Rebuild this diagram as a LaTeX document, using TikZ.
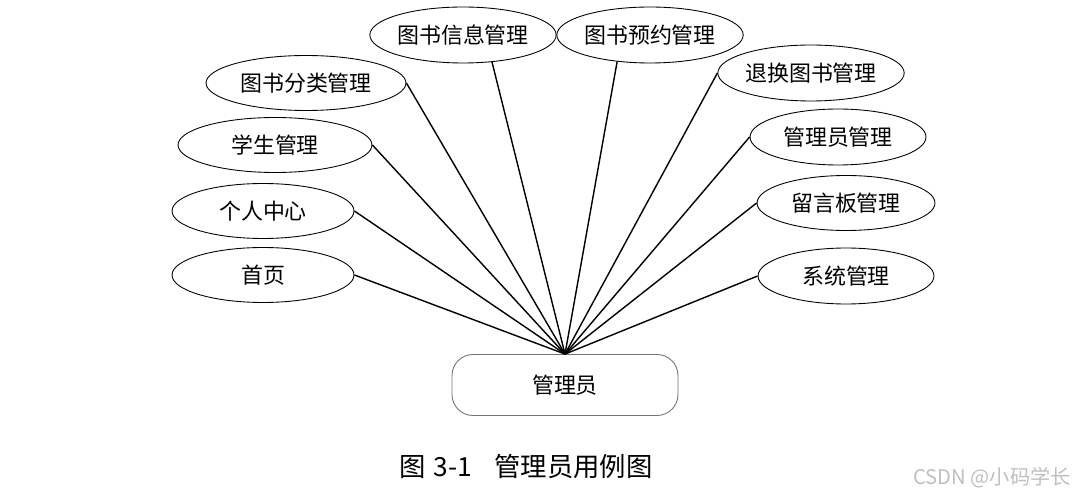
\documentclass[tikz,border=0pt]{standalone}
\usepackage{fontspec}
\setmainfont{Noto Sans CJK SC}
\usetikzlibrary{shapes.geometric}
\colorlet{boxline}{black!55}
\tikzstyle{usecase} = [
  ellipse,
  draw=black,
  line width=0.5pt,
  inner sep=0pt,
  minimum height=1.1cm,
  font=\fontsize{12.5}{15}\selectfont,
]
\tikzstyle{actor} = [
  rectangle,
  rounded corners=0.42cm,
  draw=boxline,
  line width=0.5pt,
  minimum width=4.52cm,
  minimum height=1.22cm,
  font=\fontsize{12.5}{15}\selectfont,
]
\tikzstyle{link} = [line width=0.8pt]

\begin{document}
\begin{tikzpicture}[x=0.02cm, y=-0.02cm]
    \useasboundingbox (0,0) rectangle (1081,496);

    % Actor
    \node[actor] (manager) at (565,385) {管理员};

    % Use cases, left side
    \node[usecase, minimum width=3.64cm] (home) at (263,275) {首页};
    \node[usecase, minimum width=3.64cm] (personal) at (263,211) {个人中心};
    \node[usecase, minimum width=3.88cm] (student) at (275,145) {学生管理};
    \node[usecase, minimum width=4cm] (category) at (306,83) {图书分类管理};
    \node[usecase, minimum width=3.72cm, minimum height=1.12cm] (info) at (463,35) {图书信息管理};

    % Use cases, right side
    \node[usecase, minimum width=3.68cm, minimum height=1.12cm] (reserve) at (650,35) {图书预约管理};
    \node[usecase, minimum width=3.68cm, minimum height=1.12cm] (exchange) at (811,73) {退换图书管理};
    \node[usecase, minimum width=3.52cm, minimum height=1.12cm] (admin) at (838,137) {管理员管理};
    \node[usecase, minimum width=3.56cm] (board) at (846,203) {留言板管理};
    \node[usecase, minimum width=3.52cm, minimum height=1.12cm] (system) at (846,276) {系统管理};

    % Links
    \draw[link] (manager.north) -- (home.east);
    \draw[link] (manager.north) -- (personal.east);
    \draw[link] (manager.north) -- (student.east);
    \draw[link] (manager.north) -- (category.east);
    \draw[link] (manager.north) -- (info.-43);
    \draw[link] (manager.north) -- (reserve.-141);
    \draw[link] (manager.north) -- (exchange.west);
    \draw[link] (manager.north) -- (admin.west);
    \draw[link] (manager.north) -- (board.west);
    \draw[link] (manager.north) -- (system.west);

    % Caption
    \node[font=\fontsize{15}{18}\selectfont] (caption) at (526,466) {图\hspace{0.3em}3-1\hspace{0.85em}管理员用例图};
    \node[text=black!25, font=\fontsize{11.5}{13}\selectfont, anchor=east] (mark) at (1077,478) {CSDN @小码学长};
  \end{tikzpicture}
\end{document}
